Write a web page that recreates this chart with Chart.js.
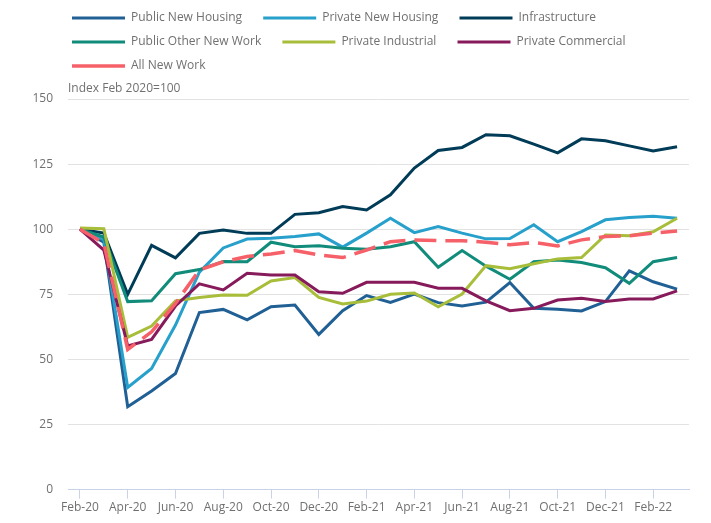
<!DOCTYPE html>
<html>
<head>
<meta charset="utf-8">
<script src="https://cdn.jsdelivr.net/npm/chart.js@4.4.0/dist/chart.umd.min.js"></script>
<style>
    html, body { margin: 0; padding: 0; background: #fff; }
    #wrap { width: 711px; height: 523px; }
</style>
</head>
<body>
<div id="wrap"><canvas id="newWorkChart"></canvas></div>
<script>
// months, Feb-20 to Mar-22
const months = ['Feb-20', 'Mar-20', 'Apr-20', 'May-20', 'Jun-20', 'Jul-20', 'Aug-20', 'Sep-20', 'Oct-20', 'Nov-20', 'Dec-20', 'Jan-21',
    'Feb-21', 'Mar-21', 'Apr-21', 'May-21', 'Jun-21', 'Jul-21', 'Aug-21', 'Sep-21', 'Oct-21', 'Nov-21', 'Dec-21', 'Jan-22',
    'Feb-22', 'Mar-22'];

const publicNewHousing = [100, 95, 31.8, 37.9, 44.6, 68, 69.2, 65.2, 70.2, 70.9, 59.6, 68.7, 74.5, 71.9, 75.1, 71.8, 70.5, 72, 79.5, 69.6, 69.3, 68.6, 72.2, 84, 79.8, 77];
const privateNewHousing = [100, 96, 39.2, 46.5, 63.2, 83.5, 92.8, 96.2, 96.5, 97.2, 98.2, 93.1, 98.5, 104.2, 98.7, 101, 98.5, 96.3, 96.4, 101.7, 95.2, 99.1, 103.6, 104.5, 105, 104.2];
const infrastructure = [100, 98.5, 75, 93.8, 89, 98.4, 99.7, 98.4, 98.4, 105.7, 106.3, 108.7, 107.4, 113.2, 123.5, 130.2, 131.4, 136.3, 135.9, 132.7, 129.3, 134.7, 134, 132, 130, 131.7];
const publicOtherNewWork = [100, 97, 72.2, 72.5, 82.9, 84.5, 87.6, 87.5, 95, 93.3, 93.6, 92.7, 92.3, 93.3, 95.2, 85.4, 91.8, 85.8, 80.8, 87.5, 88.2, 87.2, 85.2, 79.2, 87.5, 89.1];
const privateIndustrial = [100.5, 100.2, 58.5, 62.8, 72.5, 73.8, 74.7, 74.6, 80.1, 81.4, 73.8, 71.3, 72.4, 75, 75.5, 70.2, 75.1, 86, 84.8, 86.7, 88.6, 89.1, 97.8, 97.5, 99, 104.2];
const privateCommercial = [100, 92, 55.2, 57.7, 70.5, 79, 76.7, 83.1, 82.4, 82.4, 76, 75.4, 79.6, 79.6, 79.6, 77.3, 77.3, 72.5, 68.7, 69.6, 72.8, 73.5, 72.2, 73.2, 73.2, 76.3];
const allNewWork = [100, 94.6, 53.8, 60.6, 71.5, 84.3, 87.5, 89.5, 90.5, 91.8, 90.1, 89.1, 92, 95.2, 95.9, 95.6, 95.6, 95, 94, 94.9, 93.6, 95.9, 97.2, 97.5, 98.5, 99.3];

// y axis: 0 to 150 every 25
const yMin = 0;
const yMax = 150;
const yStep = 25;
const axisTitle = 'Index Feb 2020=100';

const textGrey = '#707071';
const axisBlue = '#c9d3e6';

Chart.defaults.font.family = '"Open Sans", sans-serif';
Chart.defaults.font.size = 12;
Chart.defaults.color = textGrey;

function line(label, data, color, order, extra) {
    return Object.assign({
        label: label,
        data: data,
        borderColor: color,
        backgroundColor: color,
        borderWidth: 3,
        pointRadius: 0,
        tension: 0,
        fill: false,
        order: order
    }, extra || {});
}

// legend taller than needed (room for the axis note) and nudged right
const legendSpace = {
    id: 'legendSpace',
    beforeInit(chart) {
        const fit = chart.legend.fit;
        chart.legend.fit = function () {
            fit.call(this);
            this.height = 99;
        };
    },
    afterLayout(chart) {
        chart.legend.left = 60;
    }
};

const axisNote = {
    id: 'axisNote',
    afterDraw(chart) {
        const { ctx, chartArea } = chart;
        ctx.save();
        ctx.font = '12px "Open Sans", sans-serif';
        ctx.fillStyle = textGrey;
        ctx.textBaseline = 'middle';
        ctx.textAlign = 'left';
        ctx.fillText(axisTitle, chartArea.left, chartArea.top - 10);
        ctx.restore();
    }
};

const ctx = document.getElementById('newWorkChart');
const newWorkChart = new Chart(ctx, {
    type: 'line',
    data: {
        labels: months,
        datasets: [
            line('Public New Housing', publicNewHousing, '#206095', 6),
            line('Private New Housing', privateNewHousing, '#27a0cc', 5),
            line('Infrastructure', infrastructure, '#003c57', 4),
            line('Public Other New Work', publicOtherNewWork, '#118c7b', 3),
            line('Private Industrial', privateIndustrial, '#a8bd3a', 2),
            line('Private Commercial', privateCommercial, '#871a5b', 1),
            line('All New Work', allNewWork, '#f66068', 0, { borderDash: [22, 9], borderWidth: 3.5 })
        ]
    },
    options: {
        responsive: true,
        maintainAspectRatio: false,
        animation: false,
        layout: {
            padding: { left: 0, right: 22, top: 0, bottom: 6 }
        },
        plugins: {
            legend: {
                position: 'top',
                align: 'start',
                labels: {
                    usePointStyle: true,
                    pointStyle: 'line',
                    pointStyleWidth: 53,
                    boxHeight: 12,
                    padding: 12,
                    color: textGrey,
                    sort: (a, b) => a.datasetIndex - b.datasetIndex,
                    generateLabels(chart) {
                        const items = Chart.defaults.plugins.legend.labels.generateLabels(chart);
                        items.forEach(item => { item.text = item.text + '\u2002 '; });
                        return items;
                    }
                }
            },
            title: { display: false },
            tooltip: { enabled: false }
        },
        scales: {
            x: {
                offset: true,
                grid: {
                    drawOnChartArea: false,
                    tickLength: 9,
                    color: c => (c.index % 2 === 0 ? axisBlue : 'rgba(0,0,0,0)')
                },
                border: { color: axisBlue },
                ticks: {
                    autoSkip: false,
                    maxRotation: 0,
                    padding: 2,
                    color: textGrey,
                    callback: (v, i) => (i % 2 === 0 ? months[i] : '')
                }
            },
            y: {
                min: yMin,
                max: yMax,
                afterFit: scale => { scale.width = 68; },
                grid: { color: '#e2e2e2', drawTicks: false },
                border: { display: false },
                ticks: { stepSize: yStep, padding: 15, color: textGrey }
            }
        }
    },
    plugins: [legendSpace, axisNote]
});
</script>
</body>
</html>
